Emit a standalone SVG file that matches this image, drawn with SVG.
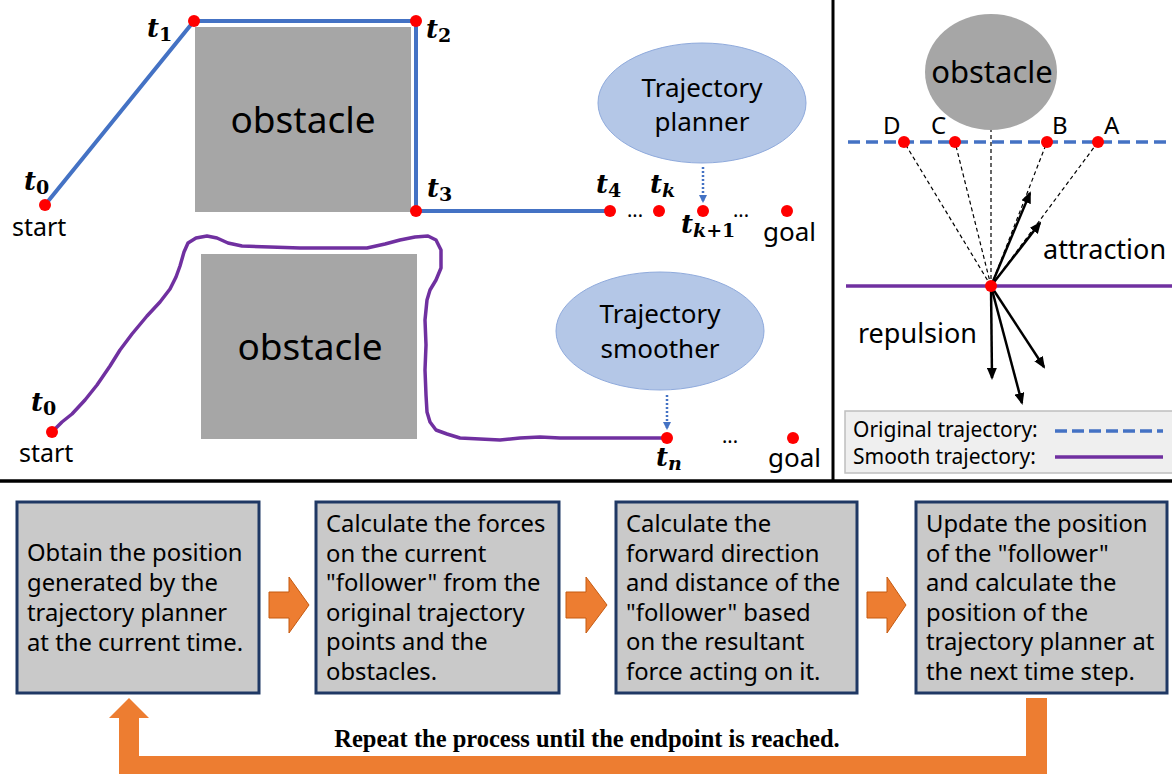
<svg xmlns="http://www.w3.org/2000/svg" width="1172" height="774" viewBox="0 0 1172 774">
<defs>
<style>
.sans{font-family:"Noto Sans","Open Sans",sans-serif;fill:#000}
.math{font-family:"DejaVu Serif","Liberation Serif",serif;font-weight:bold;font-style:italic;fill:#000}
.sub{font-style:normal}
.obs{fill:#a6a6a6}
.dot{fill:#ff0000}
.ell{fill:#b4c7e7;stroke:#8faadc;stroke-width:1}
.blue{fill:none;stroke:#4472c4;stroke-width:4}
.purple{fill:none;stroke:#7030a0;stroke-width:3.5;stroke-linejoin:round;stroke-linecap:round}
.dotted{fill:none;stroke:#4472c4;stroke-width:2.5;stroke-dasharray:2 2}
.thin{fill:none;stroke:#000;stroke-width:1.2;stroke-dasharray:4 3}
.force{fill:none;stroke:#000;stroke-width:2.5}
.box{fill:#c9c9c9;stroke:#1f3864;stroke-width:3}
.oarrow{fill:#ed7d31;stroke:#c55a11;stroke-width:1}
.boxtxt{font-family:"Noto Sans","Open Sans",sans-serif;font-size:23.8px;fill:#000}
</style>
<marker id="ab" markerWidth="8" markerHeight="8" refX="6" refY="4" orient="auto" markerUnits="userSpaceOnUse"><path d="M0,0 L8,4 L0,8 Z" fill="#4472c4"/></marker>
<marker id="ak" markerWidth="12" markerHeight="10" refX="10" refY="5" orient="auto" markerUnits="userSpaceOnUse"><path d="M0,0 L12,5 L0,10 Z" fill="#000"/></marker>
</defs>
<rect width="1172" height="774" fill="#fff"/>

<g id="dividers">
<line x1="833" y1="0" x2="833" y2="481" stroke="#000" stroke-width="3"/>
<line x1="0" y1="481" x2="1172" y2="481" stroke="#000" stroke-width="3.5"/>
</g>

<g id="obstacle-top">
<rect class="obs" x="195" y="27" width="216" height="185"/>
<text class="sans" x="303" y="133" font-size="37" text-anchor="middle">obstacle</text>
</g>
<g id="connectors">
<polyline class="blue" points="45,205 194,21 416,21 416,211 610,211"/>
<path class="purple" d="M52,432 L62,422 L72,414 L85,400 L97,385 L110,366 L120,350 L132,334 L147,316 L160,302 L170,289 L176,277 L180,266 L184,252 L188,243 L196,238 L207,236 L217,238 L228,243 L242,246 L270,247 L300,248 L335,248 L367,248 L385,244 L400,240 L415,237 L428,236 L436,240 L441,250 L441,268 L436,280 L430,290 L427,300 L425,320 L426,345 L425,370 L426,395 L427,412 L430,422 L436,430 L447,434 L460,438 L480,439 L500,440 L520,438 L540,437 L560,438 L600,438 L640,438 L667,438"/>
<line class="dotted" x1="703" y1="167" x2="703" y2="201" marker-end="url(#ab)"/>
<line class="dotted" x1="667" y1="395" x2="667" y2="428" marker-end="url(#ab)"/>
</g>
<g id="points-top">
<circle class="dot" cx="45" cy="205" r="6"/>
<circle class="dot" cx="194" cy="21" r="6"/>
<circle class="dot" cx="416" cy="21" r="6"/>
<circle class="dot" cx="416" cy="211" r="6"/>
<circle class="dot" cx="610" cy="211" r="6"/>
<circle class="dot" cx="659" cy="211" r="6"/>
<circle class="dot" cx="703" cy="211" r="6"/>
<circle class="dot" cx="787" cy="211" r="6"/>
<text class="math" x="24" y="190" font-size="26">t<tspan class="sub" font-size="19" dy="4">0</tspan></text>
<text class="sans" x="12" y="236" font-size="25">start</text>
<text class="math" x="147" y="37" font-size="26">t<tspan class="sub" font-size="19" dy="4">1</tspan></text>
<text class="math" x="426" y="38" font-size="26">t<tspan class="sub" font-size="19" dy="4">2</tspan></text>
<text class="math" x="427" y="197" font-size="26">t<tspan class="sub" font-size="19" dy="4">3</tspan></text>
<text class="math" x="596" y="193" font-size="26">t<tspan class="sub" font-size="19" dy="4">4</tspan></text>
<text class="math" x="650" y="193" font-size="26">t<tspan font-size="19" dy="4">k</tspan></text>
<text class="math" x="681" y="233" font-size="26">t<tspan font-size="19" dy="4">k</tspan><tspan class="sub" font-size="19">+1</tspan></text>
<text class="sans" x="627" y="217" font-size="20">...</text>
<text class="sans" x="733" y="217" font-size="20">...</text>
<text class="sans" x="763" y="241" font-size="26">goal</text>
</g>
<g id="planner">
<ellipse class="ell" cx="702" cy="103" rx="104" ry="60"/>
<text class="sans" x="702" y="97" font-size="26" text-anchor="middle">Trajectory</text>
<text class="sans" x="702" y="131" font-size="26" text-anchor="middle">planner</text>
</g>

<g id="obstacle-bottom">
<rect class="obs" x="201" y="254" width="216" height="185"/>
<text class="sans" x="310" y="360" font-size="37" text-anchor="middle">obstacle</text>
</g>
<g id="points-bottom">
<circle class="dot" cx="52" cy="432" r="6"/>
<circle class="dot" cx="667" cy="438" r="6"/>
<circle class="dot" cx="793" cy="438" r="6"/>
<text class="math" x="31" y="411" font-size="26">t<tspan class="sub" font-size="19" dy="4">0</tspan></text>
<text class="sans" x="19" y="462" font-size="25">start</text>
<text class="math" x="656" y="466" font-size="26">t<tspan font-size="19" dy="4">n</tspan></text>
<text class="sans" x="722" y="443" font-size="20">...</text>
<text class="sans" x="768" y="467" font-size="26">goal</text>
</g>
<g id="smoother">
<ellipse class="ell" cx="660" cy="331" rx="104" ry="59"/>
<text class="sans" x="660" y="323" font-size="26" text-anchor="middle">Trajectory</text>
<text class="sans" x="660" y="358" font-size="26" text-anchor="middle">smoother</text>
</g>

<g id="obstacle-right">
<ellipse class="obs" cx="991" cy="72" rx="66" ry="58"/>
<text class="sans" x="992" y="83" font-size="31" text-anchor="middle">obstacle</text>
</g>
<g id="forces">
<line x1="848" y1="142" x2="1172" y2="142" stroke="#4472c4" stroke-width="3.5" stroke-dasharray="12 6"/>
<line x1="846" y1="286" x2="1172" y2="286" stroke="#7030a0" stroke-width="3.5"/>
<line class="thin" x1="991" y1="286" x2="904" y2="142"/>
<line class="thin" x1="991" y1="286" x2="955" y2="142"/>
<line class="thin" x1="991" y1="286" x2="991" y2="130"/>
<line class="thin" x1="991" y1="286" x2="1047" y2="142"/>
<line class="thin" x1="991" y1="286" x2="1098" y2="142"/>
<line class="force" x1="991" y1="286" x2="1030" y2="193" marker-end="url(#ak)"/>
<line class="force" x1="991" y1="286" x2="1040" y2="223" marker-end="url(#ak)"/>
<line class="force" x1="991" y1="286" x2="992" y2="378" marker-end="url(#ak)"/>
<line class="force" x1="991" y1="286" x2="1022" y2="403" marker-end="url(#ak)"/>
<line class="force" x1="991" y1="286" x2="1044" y2="367" marker-end="url(#ak)"/>
<circle class="dot" cx="904" cy="142" r="6"/>
<circle class="dot" cx="955" cy="142" r="6"/>
<circle class="dot" cx="1047" cy="142" r="6"/>
<circle class="dot" cx="1098" cy="142" r="6"/>
<circle class="dot" cx="991" cy="286" r="6"/>
<text class="sans" x="883" y="134" font-size="24">D</text>
<text class="sans" x="931" y="134" font-size="24">C</text>
<text class="sans" x="1052" y="134" font-size="24">B</text>
<text class="sans" x="1104" y="134" font-size="24">A</text>
<text class="sans" x="1043" y="259" font-size="27">attraction</text>
<text class="sans" x="858" y="343" font-size="27">repulsion</text>
</g>
<g id="legend">
<rect x="845" y="411" width="330" height="62" fill="#efefef" stroke="#bfbfbf" stroke-width="1.5"/>
<text class="sans" x="853" y="437" font-size="21">Original trajectory:</text>
<text class="sans" x="853" y="464" font-size="21">Smooth trajectory:</text>
<line x1="1055" y1="431" x2="1163" y2="431" stroke="#4472c4" stroke-width="3.5" stroke-dasharray="12 5"/>
<line x1="1055" y1="457" x2="1163" y2="457" stroke="#7030a0" stroke-width="3.5"/>
</g>

<g id="step1">
<rect class="box" x="17" y="502" width="242" height="191"/>
<text class="boxtxt" x="27" y="561">Obtain the position</text>
<text class="boxtxt" x="27" y="591">generated by the</text>
<text class="boxtxt" x="27" y="621">trajectory planner</text>
<text class="boxtxt" x="27" y="651">at the current time.</text>
</g>
<g id="step2">
<rect class="box" x="316" y="502" width="243" height="191"/>
<text class="boxtxt" x="326" y="532">Calculate the forces</text>
<text class="boxtxt" x="326" y="562">on the current</text>
<text class="boxtxt" x="326" y="591">"follower" from the</text>
<text class="boxtxt" x="326" y="621">original trajectory</text>
<text class="boxtxt" x="326" y="650">points and the</text>
<text class="boxtxt" x="326" y="680">obstacles.</text>
</g>
<g id="step3">
<rect class="box" x="616" y="502" width="241" height="191"/>
<text class="boxtxt" x="626" y="532">Calculate the</text>
<text class="boxtxt" x="626" y="562">forward direction</text>
<text class="boxtxt" x="626" y="591">and distance of the</text>
<text class="boxtxt" x="626" y="621">"follower" based</text>
<text class="boxtxt" x="626" y="650">on the resultant</text>
<text class="boxtxt" x="626" y="680">force acting on it.</text>
</g>
<g id="step4">
<rect class="box" x="916" y="502" width="251" height="191"/>
<text class="boxtxt" x="926" y="532">Update the position</text>
<text class="boxtxt" x="926" y="562">of the "follower"</text>
<text class="boxtxt" x="926" y="591">and calculate the</text>
<text class="boxtxt" x="926" y="621">position of the</text>
<text class="boxtxt" x="926" y="650">trajectory planner at</text>
<text class="boxtxt" x="926" y="680">the next time step.</text>
</g>
<g id="flow-arrows">
<polygon class="oarrow" points="269,592 289,592 289,577 309,605 289,633 289,618 269,618"/>
<polygon class="oarrow" points="566,592 586,592 586,577 607,605 586,633 586,618 566,618"/>
<polygon class="oarrow" points="867,592 887,592 887,577 906,605 887,633 887,618 867,618"/>
<polygon fill="#ed7d31" points="1026,698 1047,698 1047,774 119,774 119,718 109,718 129,698 149,718 139,718 139,756 1026,756"/>
</g>
<text x="587" y="747" font-family="Liberation Serif,Times New Roman,serif" font-weight="bold" font-size="24.5" text-anchor="middle" fill="#000">Repeat the process until the endpoint is reached.</text>
</svg>
